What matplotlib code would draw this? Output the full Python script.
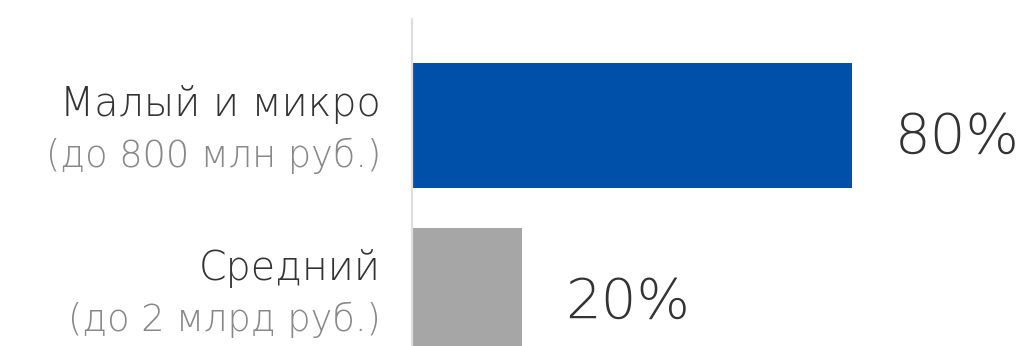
import matplotlib
matplotlib.use("Agg")
import matplotlib.pyplot as plt

categories = ["Малый и микро", "Средний"]
subtitles = ["(до 800 млн руб.)", "(до 2 млрд руб.)"]
values = [80, 20]
value_labels = ["80%", "20%"]
bar_colors = ["#0050AA", "#A6A6A6"]

plt.rcParams['font.family'] = ['DejaVu Sans']

fig = plt.figure(figsize=(10.29, 3.46), dpi=100)
W, H = 1029, 346
x0, x1 = 412, 1029
y_top, y_bot = 19, 346
ax = fig.add_axes([x0 / W, 0, (x1 - x0) / W, (y_bot - y_top) / H])

pos = list(range(len(categories)))
ax.barh(pos, values, height=0.76, color=bar_colors)
ax.set_xlim(0, (x1 - x0) / 5.5)
ax.set_ylim(1 + (346 - 290.5) / 165, -(125.5 - 19) / 165)

for s in ["top", "right", "bottom"]:
    ax.spines[s].set_visible(False)
ax.spines["left"].set_color("#DDDDDD")
ax.spines["left"].set_linewidth(1.6)
ax.set_xticks([])
ax.set_yticks([])

for i, (cat, sub, v, vl) in enumerate(zip(categories, subtitles, values, value_labels)):
    ax.annotate(cat, xy=(0, i), xycoords=("axes fraction", "data"),
                xytext=(-31, 10), textcoords="offset pixels",
                ha="right", va="baseline", fontsize=28.5, color="#333333",
                fontweight=200)
    ax.annotate(sub, xy=(0, i), xycoords=("axes fraction", "data"),
                xytext=(-31, -41), textcoords="offset pixels",
                ha="right", va="baseline", fontsize=26.5, color="#888888",
                fontweight=200)
    ax.annotate(vl, xy=(v, i), xycoords="data",
                xytext=(43, -27), textcoords="offset pixels",
                ha="left", va="baseline", fontsize=40.5, color="#333333",
                fontweight=200)

fig.savefig("out.png", dpi=100)
